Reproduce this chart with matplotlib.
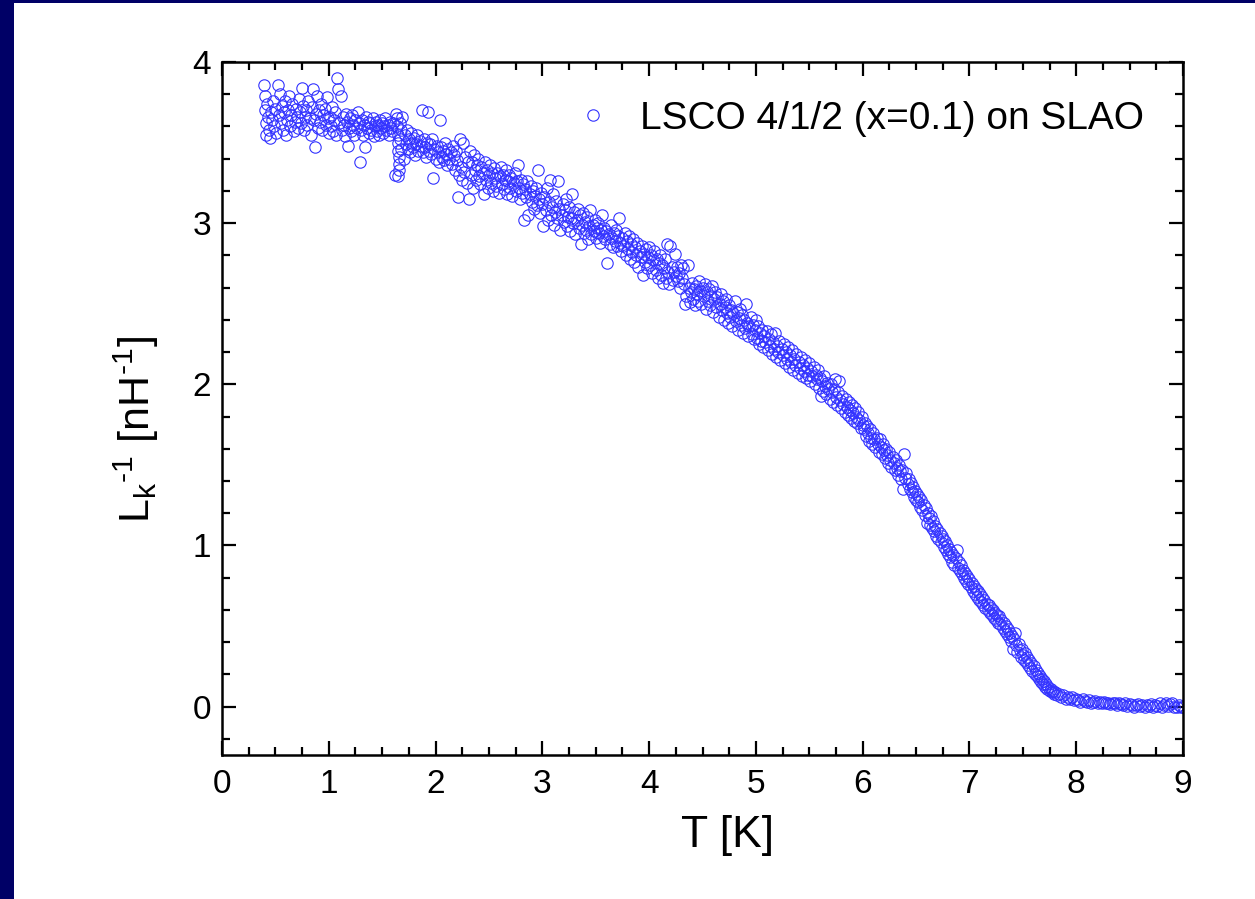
import numpy as np
import matplotlib
matplotlib.use('Agg')
import matplotlib.pyplot as plt
from matplotlib.ticker import MultipleLocator
from matplotlib.patches import Rectangle

plt.rcParams['font.family'] = ['Liberation Sans', 'DejaVu Sans']
plt.rcParams['mathtext.fontset'] = 'custom'
plt.rcParams['mathtext.rm'] = 'Liberation Sans'
plt.rcParams['mathtext.it'] = 'Liberation Sans:italic'

##########################################################################################
## data: (T [K], 1/Lk [1/nH]) #############################
##########################################################################################
seg_low = [(0.39,3.86),(0.40,3.79),(0.40,3.70),(0.41,3.62),(0.41,3.55),(0.42,3.74),(0.43,3.66),(0.44,3.58),
           (0.45,3.53),(0.46,3.69),(0.47,3.64),(0.48,3.76),(0.49,3.60),(0.50,3.71),(0.51,3.56),(0.52,3.86),
           (0.53,3.67),(0.54,3.80),(0.55,3.62),(0.56,3.73),(0.57,3.58),(0.58,3.69),(0.59,3.76),(0.60,3.55),
           (0.61,3.64),(0.62,3.70),(0.63,3.79),(0.64,3.60),(0.65,3.67),(0.66,3.74),(0.67,3.57),(0.68,3.63),
           (0.69,3.71),(0.70,3.66),(0.71,3.59),(0.72,3.77),(0.73,3.69),(0.74,3.62),(0.75,3.84),(0.76,3.73),
           (0.77,3.58),(0.78,3.66),(0.79,3.70),(0.80,3.61),(0.81,3.76),(0.82,3.65),(0.83,3.55),(0.84,3.72),
           (0.85,3.83),(0.86,3.64),(0.87,3.47),(0.88,3.68),(0.89,3.79),(0.90,3.59),(0.91,3.70),(0.92,3.63),
           (0.93,3.74),(0.94,3.58),(0.95,3.67),(0.96,3.71),(0.97,3.61),(0.98,3.78),(0.99,3.65),(1.00,3.56)]

seg_b = [(1.01,3.66),(1.02,3.60),(1.03,3.72),(1.04,3.57),(1.05,3.64),(1.06,3.69),(1.07,3.55),(1.08,3.90),
         (1.09,3.83),(1.10,3.62),(1.11,3.79),(1.12,3.58),(1.13,3.66),(1.14,3.61),(1.15,3.54),(1.16,3.68),
         (1.17,3.63),(1.18,3.48),(1.19,3.59),(1.20,3.65),(1.21,3.57),(1.22,3.67),(1.23,3.61),(1.24,3.55),
         (1.25,3.64),(1.26,3.59),(1.27,3.69),(1.28,3.62),(1.29,3.38),(1.30,3.58),(1.31,3.64),(1.32,3.55),
         (1.33,3.61),(1.34,3.47),(1.35,3.66),(1.36,3.59),(1.37,3.63),(1.38,3.56),(1.39,3.62),(1.40,3.58),
         (1.41,3.65),(1.42,3.54),(1.43,3.60),(1.44,3.63),(1.45,3.57),(1.46,3.61),(1.47,3.55),(1.48,3.64),
         (1.49,3.59),(1.50,3.62),(1.51,3.56),(1.52,3.60),(1.53,3.65),(1.54,3.58),(1.55,3.61),(1.56,3.55),
         (1.57,3.63),(1.58,3.59),(1.59,3.57),(1.60,3.62)]

seg_streak = [(1.63,3.68),(1.64,3.65),(1.64,3.60),(1.65,3.55),(1.65,3.50),(1.65,3.45),(1.66,3.41),(1.66,3.37),
              (1.66,3.33),(1.65,3.29),(1.62,3.30),(1.67,3.62),(1.67,3.52),(1.68,3.46),(1.68,3.58),(1.69,3.66),
              (1.70,3.40)]

seg_c = [(1.71,3.55),(1.72,3.49),(1.73,3.58),(1.74,3.46),(1.75,3.52),(1.76,3.44),(1.77,3.56),(1.78,3.50),
         (1.79,3.47),(1.80,3.53),(1.81,3.42),(1.82,3.49),(1.83,3.55),(1.84,3.45),(1.85,3.51),(1.86,3.48),
         (1.87,3.70),(1.88,3.44),(1.89,3.52),(1.90,3.47),(1.91,3.41),(1.92,3.50),(1.93,3.69),(1.94,3.45),
         (1.95,3.49),(1.96,3.43),(1.97,3.52),(1.98,3.28),(1.99,3.46),(2.00,3.40),(2.01,3.48),(2.02,3.44),
         (2.03,3.38),(2.04,3.64),(2.05,3.47),(2.06,3.41),(2.07,3.45),(2.08,3.39),(2.09,3.50),(2.10,3.43),
         (2.11,3.36),(2.12,3.46),(2.13,3.40),(2.14,3.44),(2.15,3.37),(2.16,3.48),(2.17,3.42),(2.18,3.33),
         (2.19,3.45),(2.20,3.39),(2.21,3.16),(2.22,3.30),(2.23,3.52),(2.24,3.35),(2.25,3.27),(2.26,3.50),
         (2.27,3.32),(2.28,3.41),(2.29,3.25),(2.30,3.38),(2.31,3.15)]

seg_d = [(2.32,3.45),(2.33,3.30),(2.34,3.38),(2.35,3.22),(2.36,3.42),(2.37,3.33),(2.38,3.27),(2.39,3.36),
         (2.40,3.40),(2.41,3.29),(2.42,3.24),(2.43,3.35),(2.44,3.31),(2.45,3.18),(2.46,3.38),(2.47,3.27),
         (2.48,3.33),(2.49,3.22),(2.50,3.30),(2.51,3.36),(2.52,3.25),(2.53,3.31),(2.54,3.20),(2.55,3.34),
         (2.56,3.28),(2.57,3.23),(2.58,3.31),(2.59,3.19),(2.60,3.29),(2.61,3.35),(2.62,3.24),(2.63,3.30),
         (2.64,3.21),(2.65,3.27),(2.66,3.33),(2.67,3.18),(2.68,3.26),(2.69,3.30),(2.70,3.22),(2.71,3.28),
         (2.72,3.17),(2.73,3.25),(2.74,3.31),(2.75,3.20),(2.76,3.26),(2.77,3.36),(2.78,3.22),(2.79,3.15),
         (2.80,3.27),(2.81,3.19),(2.82,3.24),(2.83,3.02),(2.84,3.21),(2.85,3.16),(2.86,3.26),(2.87,3.05),
         (2.88,3.18),(2.89,3.23),(2.90,3.13),(2.91,3.20),(2.92,3.09),(2.93,3.17),(2.94,3.22),(2.95,3.11),
         (2.96,3.33),(2.97,3.15),(2.98,3.06),(2.99,3.19),(3.00,3.12)]

seg_e = [(3.01,2.98),(3.02,3.16),(3.03,3.08),(3.04,3.22),(3.05,3.02),(3.06,3.13),(3.07,3.27),(3.08,3.05),
         (3.09,3.10),(3.10,3.18),(3.11,2.99),(3.12,3.07),(3.13,3.14),(3.14,3.03),(3.15,3.26),(3.16,3.09),
         (3.17,2.96),(3.18,3.05),(3.19,3.12),(3.20,3.01),(3.21,3.08),(3.22,3.15),(3.23,2.98),(3.24,3.04),
         (3.25,3.10),(3.26,2.95),(3.27,3.03),(3.28,3.18),(3.29,3.00),(3.30,3.07),(3.31,2.93),(3.32,3.02),
         (3.33,3.09),(3.34,2.97),(3.35,3.05),(3.36,2.87),(3.37,2.99),(3.38,3.06),(3.39,2.94),(3.40,3.01),
         (3.41,2.96),(3.42,3.04),(3.43,2.90),(3.44,2.98),(3.45,3.08),(3.46,2.93),(3.47,2.99),(3.48,2.95),
         (3.49,3.02),(3.50,2.91),(3.51,2.97),(3.52,3.00),(3.53,2.94),(3.54,2.88),(3.55,2.96),(3.56,3.05),
         (3.57,2.92),(3.58,2.97),(3.59,2.90),(3.60,2.95),(3.61,2.75),(3.62,2.93),(3.63,2.87),(3.64,2.99),
         (3.65,2.91),(3.66,2.85),(3.67,2.94),(3.68,2.89),(3.69,2.96),(3.70,2.86),(3.71,2.92),(3.72,3.03),
         (3.73,2.88),(3.74,2.83),(3.75,2.91),(3.76,2.86),(3.77,2.94),(3.78,2.80),(3.79,2.89),(3.80,2.84),
         (3.81,2.92),(3.82,2.78),(3.83,2.87),(3.84,2.82),(3.85,2.90),(3.86,2.76),(3.87,2.85),(3.88,2.80),
         (3.89,2.88),(3.90,2.73),(3.91,2.83),(3.92,2.79),(3.93,2.86),(3.94,2.68),(3.95,2.81),(3.96,2.76),
         (3.97,2.84),(3.98,2.72),(3.99,2.79),(4.00,2.85),(4.01,2.74),(4.02,2.80),(4.03,2.69),(4.04,2.77),
         (4.05,2.83),(4.06,2.71),(4.07,2.78),(4.08,2.66),(4.09,2.75),(4.10,2.80),(4.11,2.68),(4.12,2.74),
         (4.13,2.63),(4.14,2.72),(4.15,2.78),(4.16,2.66),(4.17,2.87),(4.18,2.70),(4.19,2.62),(4.20,2.86),
         (4.21,2.73),(4.22,2.65),(4.23,2.70),(4.24,2.81),(4.25,2.67),(4.26,2.73),(4.27,2.64),(4.28,2.69),
         (4.29,2.60),(4.30,2.74),(4.31,2.66)]

seg_f = [(4.32,2.72),(4.33,2.62),(4.34,2.50),(4.35,2.55),(4.36,2.74),(4.37,2.60),(4.38,2.51),(4.39,2.57),
         (4.40,2.63),(4.41,2.53),(4.42,2.59),(4.43,2.49),(4.44,2.61),(4.45,2.56),(4.46,2.52),(4.47,2.64),
         (4.48,2.58),(4.49,2.50),(4.50,2.60),(4.51,2.55),(4.52,2.62),(4.53,2.47),(4.54,2.57),(4.55,2.52),
         (4.56,2.59),(4.57,2.49),(4.58,2.55),(4.59,2.61),(4.60,2.45),(4.61,2.53),(4.62,2.57),(4.63,2.48),
         (4.64,2.54),(4.65,2.42),(4.66,2.50),(4.67,2.56),(4.68,2.46),(4.69,2.52),(4.70,2.40),(4.71,2.48),
         (4.72,2.53),(4.73,2.44),(4.74,2.38),(4.75,2.49),(4.76,2.42),(4.77,2.46),(4.78,2.36),(4.79,2.44),
         (4.80,2.52),(4.81,2.39),(4.82,2.45),(4.83,2.34),(4.84,2.41),(4.85,2.47),(4.86,2.37),(4.87,2.43),
         (4.88,2.32),(4.89,2.40),(4.90,2.35),(4.91,2.50),(4.92,2.38),(4.93,2.30),(4.94,2.36),(4.95,2.42),
         (4.96,2.31),(4.97,2.37),(4.98,2.28),(4.99,2.34),(5.00,2.40)]

seg_g = [(5.01,2.29),(5.02,2.36),(5.03,2.25),(5.04,2.32),(5.05,2.27),(5.06,2.34),(5.07,2.23),(5.08,2.30),
         (5.09,2.26),(5.10,2.33),(5.11,2.21),(5.12,2.28),(5.13,2.24),(5.14,2.31),(5.15,2.19),(5.16,2.26),
         (5.17,2.22),(5.18,2.32),(5.19,2.17),(5.20,2.24),(5.21,2.20),(5.22,2.27),(5.23,2.15),(5.24,2.22),
         (5.25,2.18),(5.26,2.25),(5.27,2.13),(5.28,2.20),(5.29,2.16),(5.30,2.23),(5.31,2.11),(5.32,2.18),
         (5.33,2.14),(5.34,2.21),(5.35,2.09),(5.36,2.16),(5.37,2.12),(5.38,2.19),(5.39,2.07),(5.40,2.14),
         (5.41,2.10),(5.42,2.17),(5.43,2.05),(5.44,2.12),(5.45,2.08),(5.46,2.15),(5.47,2.04),(5.48,2.10),
         (5.49,2.06),(5.50,2.13),(5.51,2.02),(5.52,2.08),(5.53,2.05),(5.54,2.11),(5.55,2.00),(5.56,2.06),
         (5.57,2.03),(5.58,2.09),(5.59,1.98),(5.60,2.04),(5.61,1.93),(5.62,2.02),(5.63,1.96),(5.64,2.05),
         (5.65,1.99),(5.66,1.94),(5.67,2.01),(5.68,1.97),(5.69,1.91),(5.70,2.00),(5.71,1.95),(5.72,1.89),
         (5.73,1.97),(5.74,2.03),(5.75,1.92),(5.76,1.87),(5.77,1.95),(5.78,2.02),(5.79,1.90),(5.80,1.85),
         (5.81,1.93),(5.82,1.88),(5.83,1.83),(5.84,1.91),(5.85,1.86),(5.86,1.81),(5.87,1.89),(5.88,1.84),
         (5.89,1.79),(5.90,1.87),(5.91,1.82),(5.92,1.77),(5.93,1.85),(5.94,1.80),(5.95,1.76),(5.96,1.83),
         (5.97,1.78),(5.98,1.73),(5.99,1.80),(6.00,1.75)]

seg_h = [(6.01,1.72),(6.02,1.76),(6.03,1.68),(6.04,1.74),(6.05,1.70),(6.06,1.65),(6.07,1.72),(6.08,1.67),
         (6.09,1.63),(6.10,1.70),(6.11,1.66),(6.12,1.61),(6.13,1.67),(6.14,1.63),(6.15,1.58),(6.16,1.66),
         (6.17,1.61),(6.18,1.57),(6.19,1.63),(6.20,1.59),(6.21,1.54),(6.22,1.60),(6.23,1.56),(6.24,1.51),
         (6.25,1.58),(6.26,1.53),(6.27,1.49),(6.28,1.55),(6.29,1.51),(6.30,1.47),(6.31,1.53),(6.32,1.48),
         (6.33,1.44),(6.34,1.50),(6.35,1.46),(6.36,1.41),(6.37,1.47),(6.38,1.35),(6.39,1.57),(6.40,1.42),
         (6.41,1.45),(6.42,1.38),(6.43,1.41),(6.44,1.35),(6.45,1.39),(6.46,1.33),(6.47,1.36),(6.48,1.30),
         (6.49,1.34),(6.50,1.28),(6.51,1.32),(6.52,1.27),(6.53,1.30),(6.54,1.24),(6.55,1.28),(6.56,1.22),
         (6.57,1.25),(6.58,1.19),(6.59,1.23),(6.60,1.14),(6.61,1.20),(6.62,1.17),(6.63,1.13),(6.64,1.18),
         (6.65,1.11),(6.66,1.15),(6.67,1.09),(6.68,1.12),(6.69,1.06),(6.70,1.10),(6.71,1.04),(6.72,1.08),
         (6.73,1.02),(6.74,1.06),(6.75,1.04),(6.76,0.99),(6.77,1.03),(6.78,0.97),(6.79,1.00),(6.80,0.95),
         (6.81,0.98),(6.82,0.93),(6.83,0.96),(6.84,0.90),(6.85,0.94),(6.86,0.88),(6.87,0.92),(6.88,0.97),
         (6.89,0.86),(6.90,0.90),(6.91,0.84),(6.92,0.88),(6.93,0.82),(6.94,0.85),(6.95,0.80),(6.96,0.83),
         (6.97,0.78),(6.98,0.81),(6.99,0.76),(7.00,0.79)]

seg_i = [(7.01,0.74),(7.02,0.77),(7.03,0.72),(7.04,0.75),(7.05,0.70),(7.06,0.73),(7.07,0.68),(7.08,0.72),
         (7.09,0.66),(7.10,0.70),(7.11,0.65),(7.12,0.68),(7.13,0.63),(7.14,0.66),(7.15,0.61),(7.16,0.64),
         (7.17,0.60),(7.18,0.63),(7.19,0.58),(7.20,0.61),(7.21,0.57),(7.22,0.60),(7.23,0.55),(7.24,0.58),
         (7.25,0.54),(7.26,0.57),(7.27,0.52),(7.28,0.56),(7.29,0.51),(7.30,0.54),(7.31,0.49),(7.32,0.52),
         (7.33,0.47),(7.34,0.50),(7.35,0.45),(7.36,0.48),(7.37,0.43),(7.38,0.46),(7.39,0.41),(7.40,0.44),
         (7.41,0.36),(7.42,0.42),(7.43,0.46),(7.44,0.38),(7.45,0.34),(7.46,0.39),(7.47,0.35),(7.48,0.31),
         (7.49,0.36),(7.50,0.32),(7.51,0.29),(7.52,0.33),(7.53,0.28),(7.54,0.31),(7.55,0.26),(7.56,0.29),
         (7.57,0.24),(7.58,0.27),(7.59,0.22),(7.60,0.25),(7.61,0.20),(7.62,0.23),(7.63,0.19),(7.64,0.21),
         (7.65,0.17),(7.66,0.19),(7.67,0.15),(7.68,0.17),(7.69,0.14),(7.70,0.16),(7.71,0.12),(7.72,0.14),
         (7.73,0.11),(7.74,0.12),(7.75,0.10),(7.76,0.11),(7.77,0.09),(7.78,0.10),(7.79,0.08),(7.80,0.09),
         (7.82,0.07),(7.84,0.08),(7.86,0.06),(7.88,0.07),(7.90,0.05),(7.92,0.06),(7.94,0.05),(7.96,0.06),
         (7.98,0.04),(8.00,0.05)]

seg_tail = [(8.02,0.04),(8.04,0.03),(8.06,0.045),(8.08,0.035),(8.10,0.03),(8.12,0.04),(8.14,0.025),(8.16,0.03),
            (8.18,0.035),(8.20,0.025),(8.22,0.03),(8.24,0.02),(8.26,0.03),(8.28,0.02),(8.30,0.025),(8.32,0.015),
            (8.34,0.025),(8.36,0.02),(8.38,0.01),(8.40,0.02),(8.42,0.015),(8.44,0.01),(8.46,0.02),(8.48,0.005),
            (8.50,0.015),(8.52,0.01),(8.54,0.0),(8.56,0.01),(8.58,0.015),(8.60,0.005),(8.62,0.01),(8.64,0.0),
            (8.66,0.01),(8.68,0.005),(8.70,0.015),(8.72,0.0),(8.74,0.01),(8.76,0.005),(8.78,0.02),(8.80,0.0),
            (8.82,0.01),(8.84,0.02),(8.86,0.005),(8.88,0.015),(8.90,0.025),(8.92,0.0),(8.94,-0.005),(8.96,0.01),
            (8.98,-0.005),(9.00,0.0)]

segments = [seg_low, seg_b, seg_streak, seg_c, seg_d, seg_e, seg_f, seg_g, seg_h, seg_i, seg_tail]
T = np.array([p[0] for s in segments for p in s])
Linv = np.array([p[1] for s in segments for p in s])

##########################################################################################
fig = plt.figure(figsize=(12.55, 8.99), dpi=100)
fig.patch.set_facecolor('#000066')
# white slide area behind the axes
bg = fig.add_axes([14/1255, 0, 1 - 14/1255, 1 - 3/899], zorder=-5)
bg.axis('off')
bg.add_patch(Rectangle((0, 0), 1, 1, transform=bg.transAxes, facecolor='white', edgecolor='none'))

ax = fig.add_axes([222/1255, 144/899, 961/1255, 693/899])
ax.patch.set_alpha(0)
ax.plot(T, Linv, linestyle='none', marker='o', markersize=8.2, markerfacecolor='none',
        markeredgecolor='#3333ff', markeredgewidth=0.8, label='LSCO 4/1/2 (x=0.1) on SLAO')

ax.set_xlim(0, 9)
ax.set_ylim(-0.3, 4)
ax.xaxis.set_major_locator(MultipleLocator(1))
ax.xaxis.set_minor_locator(MultipleLocator(0.25))
ax.yaxis.set_major_locator(MultipleLocator(1))
ax.yaxis.set_minor_locator(MultipleLocator(0.2))

for sp in ax.spines.values():
    sp.set_linewidth(1.8)
ax.tick_params(which='both', direction='in', top=True, right=True, width=1.6, labelsize=24)
ax.tick_params(which='major', length=10)
ax.tick_params(axis='x', which='major', pad=10)
ax.tick_params(axis='y', which='major', pad=8)
ax.tick_params(which='minor', length=5.5)

ax.set_xlabel('T [K]', fontsize=32)
ax.xaxis.set_label_coords(0.526, -0.087)
ax.set_ylabel(r'L$_\mathregular{k}$$^\text{-1}$ [nH$^\text{-1}$]', fontsize=31)
ax.yaxis.set_label_coords(-0.063, 0.47)

ax.legend(loc='upper right', frameon=False, fontsize=28, numpoints=1, handletextpad=0.6,
          borderaxespad=0.6, handlelength=1.2)

plt.savefig('out.png', dpi=100, facecolor=fig.get_facecolor())
